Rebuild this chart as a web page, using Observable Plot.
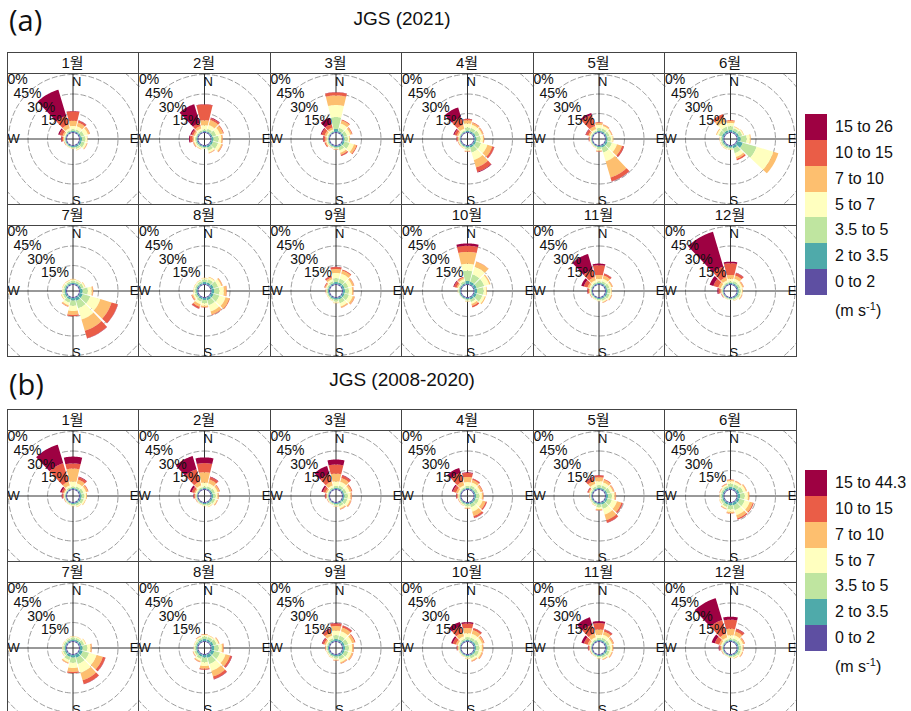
<!DOCTYPE html>
<html><head><meta charset="utf-8">
<script src="https://cdn.jsdelivr.net/npm/d3@7"></script>
<script src="https://cdn.jsdelivr.net/npm/@observablehq/plot@0.6"></script>
<style>
body{margin:0;width:911px;height:711px;overflow:hidden;background:#fff;position:relative;font-family:"Liberation Sans",Arial,"Noto Sans CJK KR",sans-serif;color:#111}
#root{position:absolute;left:0;top:0;width:911px;height:711px}
</style></head><body><div id="root"></div>
<script>
const months = ["1월","2월","3월","4월","5월","6월","7월","8월","9월","10월","11월","12월"];
const directions = [0,30,60,90,120,150,180,210,240,270,300,330];
const classesA = ["0 to 2","2 to 3.5","3.5 to 5","5 to 7","7 to 10","10 to 15","15 to 26"];
const classesB = ["0 to 2","2 to 3.5","3.5 to 5","5 to 7","7 to 10","10 to 15","15 to 44.3"];
const palette = ["#5E4FA2","#4FAAAA","#BFE5A0","#FFFFBF","#FDBF6F","#EA5D47","#9E0142"];
const ringPercents = [15,30,45,60];
const titleA = "JGS (2021)", titleB = "JGS (2008-2020)";

// frequency (%) per direction (rows: 0..330 deg) and speed class (cols)
const a01 = [[0.8,0.8,1.3,2.6,3.9,7.3,0.3],[0.8,0.8,1.5,2.5,3,1.5,0.3],[0.8,1,2.5,3,1.5,0.3,0],[0.8,1.5,2.5,1.5,0.3,0,0],[0.8,1.5,2.5,1.5,0.5,0.2,0],[0.8,1.2,1.5,0.8,0.3,0,0],[0.8,1,0.8,0.3,0.2,0,0],[0.8,0.8,0.5,0.3,0.2,0,0],[0.8,0.6,0.5,0.3,0.3,0.2,0],[0.8,0.5,0.5,0.5,0.8,1.2,0.4],[0.8,0.5,0.5,0.8,1.2,2.5,1],[0.8,0.7,1,1.5,3,7,21]];
const a02 = [[0.8,0.7,1.3,3.2,3.9,12.1,0.2],[0.8,0.8,2,3,4,1.5,0.5],[0.8,1,3,3,2.5,0.6,0],[0.8,1.5,4,2,1,0.2,0],[0.8,1.5,4,2.5,1,0.3,0],[0.8,1.5,2.5,1.5,0.5,0.2,0],[0.8,1,1,0.3,0,0,0],[0.8,0.8,1,0.8,0.5,0,0],[0.8,0.8,1,1,0.7,0.3,0],[0.8,0.8,1,1,1,2,0.7],[0.8,0.6,0.8,1,1.2,1.5,0.9],[0.8,0.5,1,1.5,2,2.5,15]];
const a03 = [[0.8,2.3,9.2,9.2,7.4,2.3,0.2],[0.8,1,2.5,3.5,2.5,0.7,0],[0.8,1,2.5,2.5,1.3,0.5,0],[0.8,1.2,2.5,1.2,0.5,0,0],[0.8,1.5,4,3.5,2,0.7,0],[0.8,1.2,2.5,2,1.5,1,0.1],[0.8,1,1,0.6,0.3,0.2,0],[0.8,0.8,0.8,0.4,0.3,0,0],[0.8,0.7,0.8,0.8,0.8,0.8,0],[0.8,0.5,0.6,0.8,1,1.5,0.3],[0.8,0.5,0.7,1,1.5,2.5,0.7],[0.8,0.5,0.8,1,1.5,3,4.8]];
const a04 = [[0.8,1,2.5,3,2.5,1,0.2],[0.8,1,2.5,2.5,1.5,0.5,0],[0.8,1.2,3,2,1,0.3,0],[0.8,1.5,3,2,0.8,0.2,0],[0.8,1.5,4,5,4,1.5,0.2],[0.8,1.5,4,6,6,3.5,0.5],[0.8,1.2,1.5,1,0.5,0.3,0],[0.8,0.8,0.8,0.5,0.3,0,0],[0.8,0.6,0.6,0.5,0.4,0.2,0],[0.8,0.5,0.5,0.5,0.7,0.8,0.2],[0.8,0.5,0.7,0.8,1.2,2,0.8],[0.8,0.6,0.8,1.5,3,6,8]];
const a05 = [[0.8,1,2,2.5,1.5,0.5,0],[0.8,1,2,2,1,0.3,0],[0.8,1,2,1.5,0.7,0.2,0],[0.8,1.2,2.5,1.5,0.5,0,0],[0.8,1.5,3.5,4,4,1.5,0.2],[0.8,1.5,4,7,13,3,0.2],[0.8,1,1.5,1,0.6,0.3,0],[0.8,0.6,0.6,0.4,0.2,0,0],[0.8,0.5,0.5,0.3,0.2,0,0],[0.8,0.5,0.5,0.5,0.5,0.5,0.1],[0.8,0.5,0.6,0.8,1.2,2,0.4],[0.8,0.5,0.8,1.2,2.5,9,1.5]];
const a06 = [[0.8,1.5,3,2.5,1.5,0.6,0],[0.8,1.2,2,1,0.5,0,0],[0.8,1.5,2.5,1,0.4,0,0],[0.8,2.5,4.5,2.5,0.7,0,0],[0.8,4.5,11,13.5,4,0,0],[0.8,2,4,3,1.5,1.2,0],[0.8,1.2,1,0.5,0.3,0,0],[0.8,1,1.2,0.6,0.3,0,0],[0.8,1,1.2,0.6,0.3,0,0],[0.8,1,1.2,0.6,0.3,0,0],[0.8,1.5,2.5,1.5,0.7,0,0],[0.8,1.5,3,4,3.5,2.5,0]];
const a07 = [[0.8,1,1.5,1,0.5,0,0],[0.8,1,1.5,0.8,0.3,0,0],[0.8,1.2,2,1,0.4,0,0],[0.8,2,4,3,1,0.2,0],[0.8,2.5,6,8,9,5,0.2],[0.8,2.5,6,9,9,6,0.2],[0.8,2,4,4,3,1,0],[0.8,1.5,2.5,2,1,0.3,0],[0.8,1.2,1.5,1,0.5,0,0],[0.8,1,1.2,0.6,0.2,0,0],[0.8,1,1.2,0.8,0.3,0,0],[0.8,1,1.2,0.8,0.4,0,0]];
const a08 = [[0.8,1.5,2,1,0.3,0,0],[0.8,1.5,2.5,1.5,0.5,0,0],[0.8,2,3.5,2.5,1,0.2,0],[0.8,2,4,3.5,2,0.3,0],[0.8,2,4.5,5,3,0.5,0],[0.8,2,4,5,2.5,0.5,0],[0.8,1.5,2.5,2,1,0.3,0],[0.8,1.2,2,2,2,1.5,0.2],[0.8,1,1.5,1.2,1,0.5,0],[0.8,1,1.2,0.8,0.3,0,0],[0.8,1,1.2,0.8,0.3,0,0],[0.8,1,1.5,0.8,0.3,0,0]];
const a09 = [[0.8,1.5,3,4,3,1.5,0.2],[0.8,1.5,3,4,2.5,0.8,0],[0.8,1.5,3,3,1.5,0.3,0],[0.8,1.5,3,2.5,1,0.2,0],[0.8,1.5,3.5,3,1.5,0.3,0],[0.8,1.5,3,2.5,1,0.2,0],[0.8,1.2,1.5,1,0.4,0,0],[0.8,1,1,0.6,0.2,0,0],[0.8,0.8,0.8,0.5,0.2,0,0],[0.8,0.8,0.8,0.5,0.3,0.2,0],[0.8,0.8,1,0.8,0.8,0.6,0.1],[0.8,1,1.5,1.5,1.5,1.2,0.2]];
const a10 = [[0.8,2.3,7.9,5.3,9.2,4.7,1.8],[0.8,2,6,6,4,0.2,0],[0.8,2,6,4,1,0,0],[0.8,2,5,2,0.5,0,0],[0.8,2,4.5,2,0.8,0,0],[0.8,1.5,2,1.5,1.5,1.3,0],[0.8,1,1,0.6,0.3,0,0],[0.8,0.8,0.5,0,0,0,0],[0.8,0.8,0.5,0.2,0,0,0],[0.8,0.8,0.8,0.4,0.2,0,0],[0.8,0.8,0.8,0.8,1,2,0.6],[0.8,1,1.5,1.5,1.2,0.8,0]];
const a11 = [[0.8,0.8,1.2,2,3,7.5,1.2],[0.8,1,1.5,2,2.5,1.5,0.2],[0.8,1,2,1.5,1,0.2,0],[0.8,1.2,2,1,0.4,0,0],[0.8,1.2,2,1.2,0.6,0.2,0],[0.8,1,1.5,1,0.5,0.2,0],[0.8,0.8,1,0.5,0.2,0,0],[0.8,0.6,0.6,0.4,0.2,0,0],[0.8,0.6,0.6,0.4,0.3,0.2,0],[0.8,0.5,0.5,0.6,0.8,1,0.3],[0.8,0.5,0.8,1,1.5,3,2],[0.8,0.7,1,1.5,2.5,6,12.6]];
const a12 = [[0.8,0.8,1.2,2,3,9,1.2],[0.8,1,1.5,2,2.5,2,0.3],[0.8,1,1.5,1.5,1,0.3,0],[0.8,1,1.5,1,0.5,0,0],[0.8,1,1.5,1,0.5,0.2,0],[0.8,0.8,1,0.6,0.3,0,0],[0.8,0.6,0.6,0.3,0,0,0],[0.8,0.5,0.5,0.3,0.2,0,0],[0.8,0.5,0.5,0.4,0.3,0.3,0.1],[0.8,0.5,0.5,0.6,0.8,1.5,0.8],[0.8,0.5,0.8,1,2,4,3],[0.8,0.6,1,1.5,2.5,8.5,28]];

const b01 = [[0.8,0.7,1,4,10,4,5.2],[0.8,0.8,1.5,2.5,3,2,0.4],[0.8,1,2,2,1.5,0.5,0],[0.8,1.2,2,1.5,0.7,0,0],[0.8,1.2,2,1.2,0.5,0,0],[0.8,1,1.5,0.8,0.3,0,0],[0.8,0.8,1,0.5,0.2,0,0],[0.8,0.6,0.6,0.4,0.2,0,0],[0.8,0.5,0.5,0.4,0.3,0.2,0],[0.8,0.5,0.5,0.5,0.6,0.8,0.4],[0.8,0.4,0.5,0.6,0.8,1.5,1.2],[0.8,0.6,1,1.5,3,14.8,14.9]];
const b02 = [[0.8,0.7,1.2,3,8,7,4.4],[0.8,0.8,1.5,2.5,3,2,0.4],[0.8,1,2,2,1.5,0.5,0],[0.8,1.2,2,1.5,0.8,0.2,0],[0.8,1.2,2,1.3,0.6,0.2,0],[0.8,1,1.5,0.8,0.3,0,0],[0.8,0.8,1,0.5,0.2,0,0],[0.8,0.6,0.6,0.4,0.2,0,0],[0.8,0.5,0.5,0.4,0.3,0.2,0],[0.8,0.5,0.5,0.5,0.6,0.8,0.3],[0.8,0.4,0.6,0.8,1,2,1.5],[0.8,0.6,1,1.5,3,10,10.6]];
const b03 = [[0.8,0.8,1.5,3.5,6,7,3.9],[0.8,1,2,3,3,2,0.4],[0.8,1,2,2.5,1.5,0.7,0],[0.8,1.2,2.5,2,1,0.3,0],[0.8,1.2,2.5,2,1,0.3,0],[0.8,1,2,1.5,0.8,0.3,0],[0.8,0.8,1.2,0.7,0.3,0,0],[0.8,0.6,0.7,0.4,0.2,0,0],[0.8,0.5,0.6,0.4,0.3,0.2,0],[0.8,0.5,0.5,0.5,0.6,0.8,0.3],[0.8,0.5,0.6,0.8,1.2,2,1.2],[0.8,0.6,1,1.5,3,6,6.6]];
const b04 = [[0.8,0.8,1.5,3,4,3,0.5],[0.8,1,2,2.5,2,1,0.2],[0.8,1,2,2,1.5,0.5,0],[0.8,1.2,2.5,2,1,0.3,0],[0.8,1.2,2.5,3,2.5,1,0.1],[0.8,1.2,2.5,3.5,3.5,1.5,0.2],[0.8,1,1.5,1.2,0.6,0.2,0],[0.8,0.8,1,0.6,0.3,0,0],[0.8,0.6,0.7,0.5,0.3,0.2,0],[0.8,0.5,0.6,0.6,0.7,0.8,0.3],[0.8,0.5,0.7,1,1.5,2.5,1],[0.8,0.6,1,1.5,3,7,4]];
const b05 = [[0.8,1,2,3,3,1.5,0.2],[0.8,1,2,2.5,2,0.6,0],[0.8,1.2,2.5,2,1,0.3,0],[0.8,1.5,3,2,1,0.3,0],[0.8,1.5,3.5,4,3.5,1.2,0.1],[0.8,1.5,3.5,4.5,4.5,2,0.2],[0.8,1.2,2,1.5,0.8,0.3,0],[0.8,0.8,1,0.6,0.3,0,0],[0.8,0.7,0.7,0.4,0.2,0,0],[0.8,0.6,0.6,0.4,0.3,0.2,0],[0.8,0.6,0.8,0.8,0.8,0.8,0.2],[0.8,0.8,1.5,2,2.5,2.5,0.6]];
const b06 = [[0.8,1.5,2.5,2,1,0.3,0],[0.8,1.5,2.5,1.8,0.8,0.2,0],[0.8,1.8,3,2,0.8,0.2,0],[0.8,2,3.5,2.5,1,0.2,0],[0.8,2,4,4,2.5,0.8,0],[0.8,2,4,4,2.5,1,0.1],[0.8,1.8,3,2,1,0.3,0],[0.8,1.5,2,1.2,0.5,0.2,0],[0.8,1.2,1.5,0.8,0.3,0,0],[0.8,1,1.2,0.6,0.3,0,0],[0.8,1,1.2,0.8,0.4,0.2,0],[0.8,1.2,1.5,1,0.6,0.3,0]];
const b07 = [[0.8,1.2,1.5,0.8,0.3,0,0],[0.8,1.2,1.5,0.8,0.3,0,0],[0.8,1.5,2,1.2,0.4,0,0],[0.8,2,3.5,2.5,1,0.2,0],[0.8,2.5,5,6,5,2,0.2],[0.8,2.5,5,7,6,3,0.2],[0.8,2,4,4,3,1,0],[0.8,1.8,2.5,1.8,0.8,0.2,0],[0.8,1.2,1.5,0.8,0.3,0,0],[0.8,1,1.2,0.6,0.2,0,0],[0.8,1,1.2,0.6,0.2,0,0],[0.8,1,1.2,0.6,0.2,0,0]];
const b08 = [[0.8,1.5,2,1.2,0.5,0.2,0],[0.8,1.5,2,1,0.4,0,0],[0.8,1.8,2.5,1.5,0.6,0.2,0],[0.8,2,3.5,2.5,1.2,0.3,0],[0.8,2.5,4.5,4.5,3.5,1.5,0.3],[0.8,2.5,5,5.5,4.5,2,0.3],[0.8,2,3.5,3,2,0.8,0.1],[0.8,1.5,2,1.5,0.8,0.3,0],[0.8,1.2,1.5,0.8,0.4,0.2,0],[0.8,1,1.2,0.6,0.2,0,0],[0.8,1,1.2,0.7,0.3,0,0],[0.8,1.2,1.5,1,0.5,0.2,0]];
const b09 = [[0.8,1.5,3,3.5,3.5,2,0.3],[0.8,1.5,3,3.5,3,1.5,0.2],[0.8,1.5,3,3,2,0.7,0],[0.8,1.5,3,2.5,1.2,0.3,0],[0.8,1.5,3,2.5,1.2,0.3,0],[0.8,1.5,2.5,2,1,0.3,0],[0.8,1.2,1.5,1,0.5,0.2,0],[0.8,1,1,0.6,0.3,0,0],[0.8,0.8,0.8,0.5,0.3,0,0],[0.8,0.8,0.8,0.6,0.5,0.3,0],[0.8,0.8,1,1,1.2,1.5,0.5],[0.8,1,1.5,2,2.5,2.5,0.7]];
const b10 = [[0.8,1,2,3,4,3.5,1],[0.8,1,2,3,3,1.5,0.2],[0.8,1.2,2.5,2.5,1.5,0.5,0],[0.8,1.2,2.5,2,1,0.2,0],[0.8,1.2,2.5,2,1,0.3,0],[0.8,1,2,1.5,0.8,0.3,0],[0.8,0.8,1.2,0.8,0.4,0,0],[0.8,0.6,0.7,0.4,0.2,0,0],[0.8,0.5,0.6,0.4,0.2,0,0],[0.8,0.5,0.6,0.5,0.6,0.6,0.2],[0.8,0.6,0.8,1,1.5,2.5,1.3],[0.8,0.8,1.2,2,3,5,3.5]];
const b11 = [[0.8,0.8,1.5,2.5,4,5,1.5],[0.8,1,1.8,2.5,2.5,1.5,0.3],[0.8,1,2,2,1.2,0.4,0],[0.8,1.2,2,1.5,0.8,0.2,0],[0.8,1.2,2,1.5,0.7,0.2,0],[0.8,1,1.5,1,0.5,0.2,0],[0.8,0.8,1,0.6,0.3,0,0],[0.8,0.6,0.6,0.4,0.2,0,0],[0.8,0.5,0.5,0.4,0.3,0.2,0],[0.8,0.5,0.5,0.5,0.6,0.8,0.3],[0.8,0.5,0.7,1,1.5,3,2],[0.8,0.7,1,1.5,3,7,6]];
const b12 = [[0.8,0.7,1.2,2.5,5,7,2.3],[0.8,0.8,1.5,2.5,3,2,0.4],[0.8,1,1.8,1.8,1.2,0.4,0],[0.8,1,1.8,1.2,0.6,0.2,0],[0.8,1,1.8,1.2,0.6,0.2,0],[0.8,0.8,1.2,0.8,0.4,0,0],[0.8,0.7,0.8,0.5,0.2,0,0],[0.8,0.5,0.5,0.3,0.2,0,0],[0.8,0.5,0.5,0.4,0.3,0.2,0],[0.8,0.5,0.5,0.5,0.7,1,0.5],[0.8,0.5,0.7,1,1.5,3.5,2.5],[0.8,0.6,1,1.5,3,11,17.5]];

const roseA = [a01,a02,a03,a04,a05,a06,a07,a08,a09,a10,a11,a12];
const roseB = [b01,b02,b03,b04,b05,b06,b07,b08,b09,b10,b11,b12];

// ---- geometry / layout ----
const K = 1.3;        // px per percent
const HOLE = 4.6;     // hollow centre (percent units)
const HALF = 13.5;    // half wedge width (deg)
const colEdges = [7,138,270,401,533,664,796];
const STRIP = 21, ROWH = 152, PH = 131;
const rad = d => d * Math.PI / 180;

function wedgePoints(rows, classes) {
  const pts = [];
  rows.forEach((vals, di) => {
    const wd = directions[di];
    let cum = 0;
    vals.forEach((v, ci) => {
      if (v <= 0) return;
      const lo = HOLE + cum, hi = HOLE + cum + v; cum += v;
      const id = di * 10 + ci, steps = 18;
      for (let s = 0; s <= steps; s++) { const a = rad(wd - HALF + 2 * HALF * s / steps); pts.push({id, cls: classes[ci], x: hi * Math.sin(a), y: hi * Math.cos(a)}); }
      for (let s = steps; s >= 0; s--) { const a = rad(wd - HALF + 2 * HALF * s / steps); pts.push({id, cls: classes[ci], x: lo * Math.sin(a), y: lo * Math.cos(a)}); }
    });
  });
  return pts;
}
function ringPoints() {
  const pts = [];
  ringPercents.forEach(p => { for (let a = 0; a <= 360; a += 2) pts.push({ring: p, x: (HOLE + p) * Math.sin(rad(a)), y: (HOLE + p) * Math.cos(rad(a))}); });
  return pts;
}
const ringLabels = ringPercents.map(p => ({x: -(HOLE + p) * Math.SQRT1_2, y: (HOLE + p) * Math.SQRT1_2, t: p + "%"}));

function rose(rows, classes, w, h) {
  const hx = w / 2 / K, hy = h / 2 / K;
  const compass = [
    {t: "N", x: 0, y: hy}, {t: "S", x: 0, y: -hy}, {t: "W", x: -hx, y: 0}, {t: "E", x: hx, y: 0}
  ];
  return Plot.plot({
    width: w, height: h, margin: 0,
    x: {domain: [-hx, hx], axis: null},
    y: {domain: [-hy, hy], axis: null},
    color: {type: "ordinal", domain: classes, range: palette},
    style: {background: "white", fontFamily: "Liberation Sans, Arial, sans-serif", color: "#111"},
    marks: [
      Plot.line(ringPoints(), {x: "x", y: "y", z: "ring", stroke: "#9a9a9a", strokeWidth: 1, strokeDasharray: "5,3", curve: "linear"}),
      Plot.ruleX([0], {stroke: "#333", strokeWidth: 1}),
      Plot.ruleY([0], {stroke: "#333", strokeWidth: 1}),
      Plot.line(wedgePoints(rows, classes), {x: "x", y: "y", z: "id", fill: "cls", stroke: "none", curve: "linear"}),
      Plot.text(ringLabels, {x: "x", y: "y", text: "t", fontSize: 14, textAnchor: "middle", lineAnchor: "middle"}),
      Plot.text(compass.filter(d => d.t === "N"), {x: "x", y: "y", text: "t", fontSize: 13, textAnchor: "start", lineAnchor: "middle", dx: -1, dy: 8}),
      Plot.text(compass.filter(d => d.t === "S"), {x: "x", y: "y", text: "t", fontSize: 13, textAnchor: "start", lineAnchor: "middle", dx: -1, dy: -3.5}),
      Plot.text(compass.filter(d => d.t === "W"), {x: "x", y: "y", text: "t", fontSize: 13, textAnchor: "start", lineAnchor: "middle", dx: 0}),
      Plot.text(compass.filter(d => d.t === "E"), {x: "x", y: "y", text: "t", fontSize: 13, textAnchor: "end", lineAnchor: "middle", dx: 0})
    ]
  });
}

const root = document.getElementById("root");
function box(css, html) { const e = document.createElement("div"); e.style.cssText = "position:absolute;" + css; if (html != null) e.innerHTML = html; root.appendChild(e); return e; }

function grid(top, roses, classes) {
  for (let r = 0; r < 2; r++) for (let c = 0; c < 6; c++) {
    const idx = r * 6 + c, L = colEdges[c], W = colEdges[c + 1] - L;
    const st = top + r * ROWH;
    box(`left:${L}px;top:${st}px;width:${W}px;height:${STRIP}px;line-height:${STRIP + 1}px;text-align:center;font-size:15px;font-family:'Liberation Sans','Noto Sans CJK KR',sans-serif;`, months[idx]);
    const p = box(`left:${L}px;top:${st + STRIP}px;width:${W}px;height:${PH}px;overflow:hidden;`);
    p.appendChild(rose(roses[idx], classes, W, PH));
  }
  const lc = "#444";
  [0, STRIP, ROWH, ROWH + STRIP, 2 * ROWH].forEach(y => box(`left:${colEdges[0]}px;top:${top + y}px;width:${colEdges[6] - colEdges[0] + 1}px;height:1px;background:${lc};`));
  colEdges.forEach(x => box(`left:${x}px;top:${top}px;width:1px;height:${2 * ROWH}px;background:${lc};`));
}

function legend(top, classes) {
  const sh = 25.85;
  for (let i = 0; i < classes.length; i++) {
    const ci = classes.length - 1 - i;
    box(`left:805px;top:${top + i * sh}px;width:22px;height:${sh + 0.5}px;background:${palette[ci]};`);
    box(`left:835px;top:${top + i * sh}px;height:${sh}px;line-height:${sh}px;font-size:16px;white-space:nowrap;`, classes[ci]);
  }
  box(`left:835px;top:${top + 7 * sh + 3}px;height:${sh}px;line-height:${sh}px;font-size:16px;white-space:nowrap;`, "(m s<sup style='font-size:11px;line-height:0'>-1</sup>)");
}

box("left:9px;top:2px;font-size:29px;line-height:36px;font-family:'Open Sans',sans-serif;", "(a)");
box("left:7px;top:7px;width:790px;text-align:center;font-size:19px;line-height:24px;", titleA);
grid(52, roseA, classesA);
legend(114, classesA);

box("left:9px;top:366px;font-size:29px;line-height:36px;font-family:'Open Sans',sans-serif;", "(b)");
box("left:7px;top:368px;width:790px;text-align:center;font-size:19px;line-height:24px;", titleB);
grid(409, roseB, classesB);
legend(470, classesB);
</script></body></html>
